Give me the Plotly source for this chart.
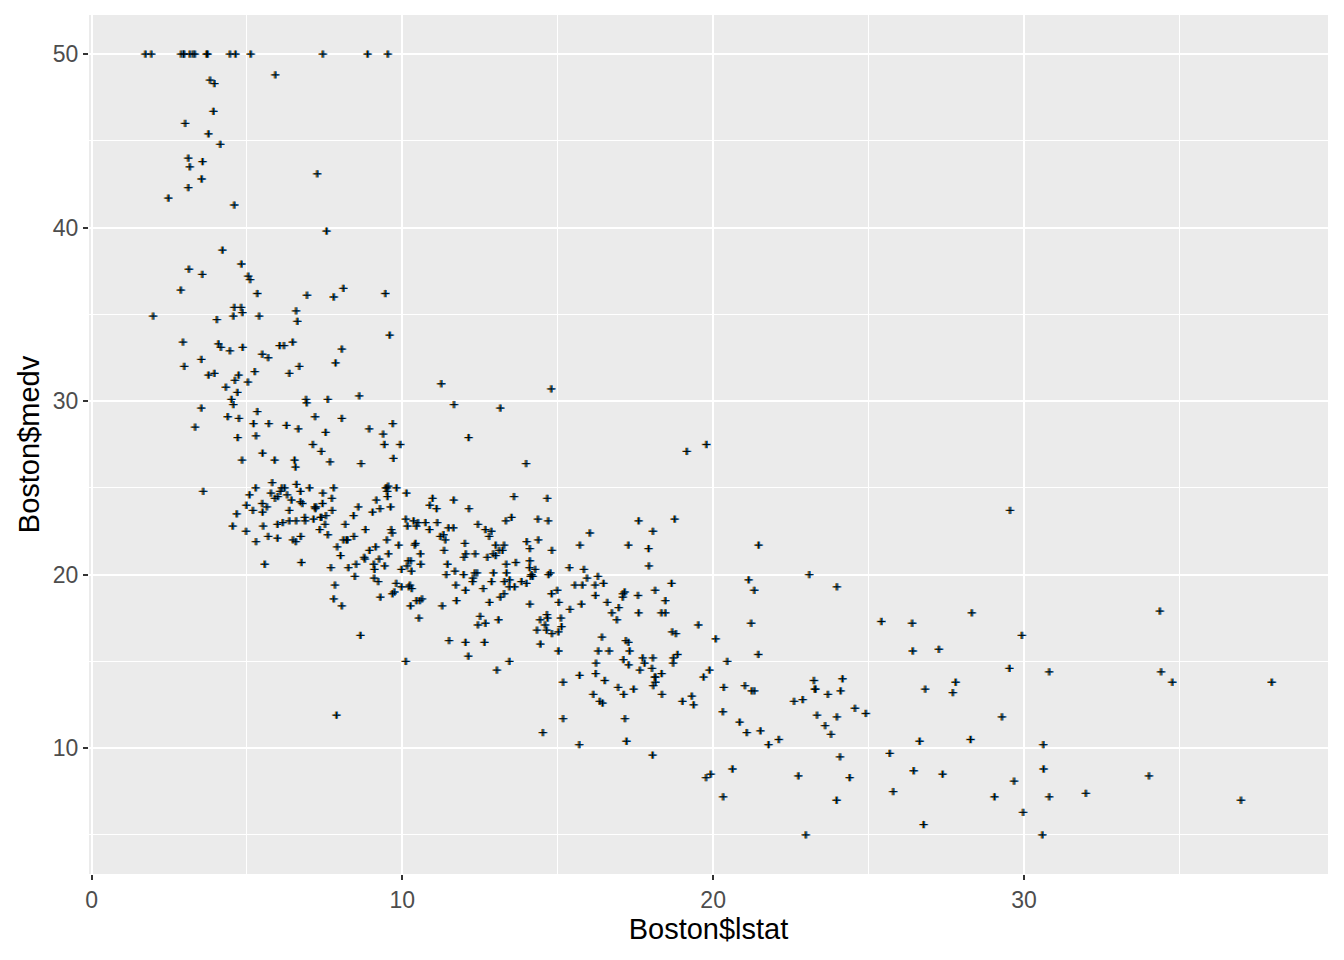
import plotly.graph_objects as go

lstat = [
    4.98, 9.14, 4.03, 2.94, 5.33, 5.21, 12.43, 19.15, 29.93, 17.10,
    20.45, 13.27, 15.71, 8.26, 10.26, 8.47, 6.58, 14.67, 11.69, 11.28,
    21.02, 13.83, 18.72, 19.88, 16.30, 16.51, 14.81, 17.28, 12.80, 11.98,
    22.60, 13.04, 27.71, 18.35, 20.34, 9.68, 11.41, 8.77, 10.13, 4.32,
    1.98, 4.84, 5.81, 7.44, 9.55, 10.21, 14.15, 18.80, 30.81, 16.20,
    13.45, 9.43, 5.28, 8.43, 14.80, 4.81, 5.77, 3.95, 6.86, 9.22,
    13.15, 14.44, 6.73, 9.50, 8.05, 4.67, 10.24, 8.10, 13.09, 8.79,
    6.72, 9.88, 5.52, 7.54, 6.78, 8.94, 11.97, 10.27, 12.34, 9.10,
    5.29, 7.22, 6.72, 7.51, 9.62, 6.53, 12.86, 8.44, 5.50, 5.70,
    8.81, 8.20, 8.16, 6.21, 10.59, 6.65, 11.34, 4.21, 3.57, 6.19,
    9.42, 7.67, 10.63, 13.44, 12.33, 16.47, 18.66, 14.09, 12.27, 15.55,
    13.00, 10.16, 16.21, 17.09, 10.45, 15.76, 12.04, 10.30, 15.37, 13.61,
    14.37, 14.27, 17.93, 25.41, 17.58, 14.81, 27.26, 17.19, 15.39, 18.34,
    12.60, 12.26, 11.12, 15.03, 17.31, 16.96, 16.90, 14.59, 21.32, 18.46,
    24.16, 34.41, 26.82, 26.42, 29.29, 27.80, 16.65, 29.53, 28.32, 21.45,
    14.10, 13.28, 12.12, 15.79, 15.12, 15.02, 16.14, 4.59, 6.43, 7.39,
    5.50, 1.73, 1.92, 3.32, 11.64, 9.81, 3.70, 12.14, 11.10, 11.32,
    14.43, 12.03, 14.69, 9.04, 9.64, 5.33, 10.11, 6.29, 6.92, 5.04,
    7.56, 9.45, 4.82, 5.68, 13.98, 13.15, 4.45, 6.68, 4.56, 5.39,
    5.10, 4.69, 2.87, 5.03, 4.38, 2.97, 4.08, 8.61, 6.62, 4.56,
    4.45, 7.43, 3.11, 3.81, 2.88, 10.87, 10.97, 18.06, 14.66, 23.09,
    17.27, 23.98, 16.03, 9.38, 29.55, 9.47, 13.51, 9.69, 17.92, 10.50,
    9.71, 21.46, 9.93, 7.60, 4.14, 4.63, 3.13, 6.36, 3.92, 3.76,
    11.65, 5.25, 2.47, 3.95, 8.05, 10.88, 9.54, 4.73, 6.36, 7.37,
    11.38, 12.40, 11.22, 5.19, 12.50, 18.46, 9.16, 10.15, 9.52, 6.56,
    5.90, 3.59, 3.53, 3.54, 6.57, 9.25, 3.11, 5.12, 7.79, 6.90,
    9.59, 7.26, 5.91, 11.25, 8.10, 10.45, 14.79, 7.44, 3.16, 13.65,
    13.00, 6.59, 7.73, 6.58, 3.53, 2.98, 6.05, 4.16, 7.19, 4.85,
    3.76, 4.59, 3.01, 3.16, 7.85, 8.23, 12.93, 7.14, 7.60, 9.51,
    3.33, 3.56, 4.70, 8.58, 10.40, 6.27, 7.39, 15.84, 4.97, 4.74,
    6.07, 9.50, 8.67, 4.86, 6.93, 8.93, 6.47, 7.53, 4.54, 9.97,
    12.64, 5.98, 11.72, 7.90, 9.28, 11.50, 18.33, 15.94, 10.36, 12.73,
    7.20, 6.87, 7.70, 11.74, 6.12, 5.08, 6.15, 12.79, 9.97, 7.34,
    9.09, 12.43, 7.83, 5.68, 6.75, 8.01, 9.80, 10.56, 8.51, 9.74,
    9.29, 5.49, 8.65, 7.18, 4.61, 10.53, 12.67, 6.36, 5.99, 5.89,
    5.98, 5.49, 7.79, 4.50, 8.05, 5.57,
    17.60, 13.27, 11.48, 12.67, 7.79, 14.19, 10.19, 14.64, 5.29, 7.12, 14.00, 13.33, 3.26, 3.73,
    2.96, 9.53, 8.88, 34.77, 37.97, 13.44, 23.24, 21.24, 23.69, 21.78,
    17.21, 21.08, 23.60, 24.56, 30.63, 30.81, 28.28, 31.99, 30.62, 20.85,
    17.11, 18.76, 25.68, 15.17, 16.35, 17.12, 19.37, 19.92, 30.59, 29.97,
    26.77, 20.32, 20.31, 19.77, 27.38, 22.98, 23.34, 12.13, 26.40, 19.78,
    10.11, 21.22, 34.37, 20.08, 36.98, 29.05, 25.79, 26.64, 20.62, 22.74,
    15.02, 15.70, 14.10, 23.29, 17.16, 24.39, 15.69, 14.52, 21.52, 24.08,
    17.64, 19.69, 12.03, 16.22, 15.17, 23.27, 18.05, 26.45, 34.02, 22.88,
    22.11, 19.52, 16.59, 18.85, 23.79, 23.98, 17.79, 16.44, 18.13, 19.31,
    17.44, 17.73, 17.27, 16.74, 18.71, 18.13, 19.01, 16.94, 16.23, 14.70,
    16.42, 14.65, 13.99, 10.29, 13.22, 14.13, 17.15, 21.32, 18.13, 14.76,
    16.29, 12.87, 14.36, 11.66, 18.14, 24.10, 18.68, 24.91, 18.03, 13.11,
    10.74, 7.74, 7.01, 10.42, 13.34, 10.58, 14.98, 11.45, 18.06, 23.97,
    29.68, 18.07, 13.35, 12.01, 13.59, 17.60, 21.14, 14.10, 12.92, 15.10,
    14.33, 9.67, 9.08, 5.64, 6.48, 7.88,
]

medv = [
    24.0, 21.6, 34.7, 33.4, 36.2, 28.7, 22.9, 27.1, 16.5, 18.9,
    15.0, 18.9, 21.7, 20.4, 18.2, 19.9, 23.1, 17.5, 20.2, 18.2,
    13.6, 19.6, 15.2, 14.5, 15.6, 13.9, 16.6, 14.8, 18.4, 21.0,
    12.7, 14.5, 13.2, 13.1, 13.5, 18.9, 20.0, 21.0, 24.7, 30.8,
    34.9, 26.6, 25.3, 24.7, 21.2, 19.3, 20.0, 16.6, 14.4, 19.4,
    19.7, 20.5, 25.0, 23.4, 18.9, 35.4, 24.7, 31.6, 23.3, 19.6,
    18.7, 16.0, 22.2, 25.0, 33.0, 23.5, 19.4, 22.0, 17.4, 20.9,
    24.2, 21.7, 22.8, 23.4, 24.1, 21.4, 20.0, 20.8, 21.2, 20.3,
    28.0, 23.9, 24.8, 22.9, 23.9, 26.6, 22.5, 22.2, 23.6, 28.7,
    22.6, 22.0, 22.9, 25.0, 20.6, 28.4, 21.4, 38.7, 43.8, 33.2,
    27.5, 26.5, 18.6, 19.3, 20.1, 19.5, 19.5, 20.4, 19.8, 19.4,
    21.7, 22.8, 18.8, 18.7, 18.5, 18.3, 21.2, 19.2, 20.4, 19.3,
    22.0, 20.3, 20.5, 17.3, 18.8, 21.4, 15.7, 16.2, 18.0, 14.3,
    19.2, 19.6, 23.0, 18.4, 15.6, 18.1, 17.4, 17.1, 13.3, 17.8,
    14.0, 14.4, 13.4, 15.6, 11.8, 13.8, 15.6, 14.6, 17.8, 15.4,
    21.5, 19.6, 15.3, 19.4, 17.0, 15.6, 13.1, 41.3, 24.3, 23.3,
    27.0, 50.0, 50.0, 50.0, 22.7, 25.0, 50.0, 23.8, 23.8, 22.3,
    17.4, 19.1, 23.1, 23.6, 22.6, 29.4, 23.2, 24.6, 29.9, 37.2,
    39.8, 36.2, 37.9, 32.5, 26.4, 29.6, 50.0, 32.0, 29.8, 34.9,
    37.0, 30.5, 36.4, 31.1, 29.1, 50.0, 33.3, 30.3, 34.6, 34.9,
    32.9, 24.1, 42.3, 48.5, 50.0, 22.6, 24.4, 22.5, 24.4, 20.0,
    21.7, 19.3, 22.4, 28.1, 23.7, 25.0, 23.3, 28.7, 21.5, 23.0,
    26.7, 21.7, 27.5, 30.1, 44.8, 50.0, 37.6, 31.6, 46.7, 31.5,
    24.3, 31.7, 41.7, 48.3, 29.0, 24.0, 25.1, 31.5, 23.7, 23.3,
    22.0, 20.1, 22.2, 23.7, 17.6, 18.5, 24.3, 20.5, 24.5, 26.2,
    24.4, 24.8, 29.6, 42.8, 21.9, 20.9, 44.0, 50.0, 36.0, 30.1,
    33.8, 43.1, 48.8, 31.0, 36.5, 22.8, 30.7, 50.0, 43.5, 20.7,
    21.1, 25.2, 24.4, 35.2, 32.4, 32.0, 33.2, 33.1, 29.1, 35.1,
    45.4, 35.4, 46.0, 50.0, 32.2, 22.0, 20.1, 23.2, 22.3, 24.8,
    28.5, 37.3, 27.9, 23.9, 21.7, 28.6, 27.1, 20.3, 22.5, 29.0,
    24.8, 22.0, 26.4, 33.1, 36.1, 28.4, 33.4, 28.2, 22.8, 20.3,
    16.1, 22.1, 19.4, 21.6, 23.8, 16.2, 17.8, 19.8, 23.1, 21.0,
    23.8, 23.1, 20.4, 18.5, 25.0, 24.6, 23.0, 22.2, 19.3, 22.6,
    19.8, 17.1, 19.4, 22.2, 20.7, 21.1, 19.5, 18.5, 20.6, 19.0,
    18.7, 32.7, 16.5, 23.9, 31.2, 17.5, 17.2, 23.1, 24.5, 26.6,
    22.9, 24.1, 18.6, 30.1, 18.2, 20.6,
    17.8, 21.7, 22.7, 22.6, 25.0, 19.9, 20.8, 16.8, 21.9, 27.5, 21.9, 23.1, 50.0, 50.0,
    50.0, 50.0, 50.0, 13.8, 13.8, 15.0, 13.9, 13.3, 13.1, 10.2,
    10.4, 10.9, 11.3, 12.3, 8.8, 7.2, 10.5, 7.4, 10.2, 11.5,
    15.1, 23.2, 9.7, 13.8, 12.7, 13.1, 12.5, 8.5, 5.0, 6.3,
    5.6, 7.2, 12.1, 8.3, 8.5, 5.0, 11.9, 27.9, 17.2, 27.5,
    15.0, 17.2, 17.9, 16.3, 7.0, 7.2, 7.5, 10.4, 8.8, 8.4,
    16.7, 14.2, 20.8, 13.4, 11.7, 8.3, 10.2, 10.9, 11.0, 9.5,
    14.5, 14.1, 16.1, 14.3, 11.7, 13.4, 9.6, 8.7, 8.4, 12.8,
    10.5, 17.1, 18.4, 15.4, 10.8, 11.8, 14.9, 12.6, 14.1, 13.0,
    13.4, 15.2, 16.1, 17.8, 14.9, 14.1, 12.7, 13.5, 14.9, 20.0,
    16.4, 17.7, 19.5, 20.2, 21.4, 19.9, 19.0, 19.1, 19.1, 20.1,
    19.9, 19.6, 23.2, 29.8, 13.8, 13.3, 16.7, 12.0, 14.6, 21.4,
    23.0, 23.7, 25.0, 21.8, 20.6, 21.2, 19.1, 20.6, 15.2, 7.0,
    8.1, 13.6, 20.1, 21.8, 24.5, 23.1, 19.7, 18.3, 21.2, 17.5,
    16.8, 22.4, 20.6, 23.9, 22.0, 11.9,
]

x_ticks = [0, 10, 20, 30]
y_ticks = [10, 20, 30, 40, 50]

n = min(len(lstat), len(medv))
lstat = lstat[:n]
medv = medv[:n]

W, H = 1344, 960
ML, MR, MT, MB = 88.5, 16, 15, 86

xmin, xmax = min(lstat), max(lstat)
ymin, ymax = min(medv), max(medv)
xr = [xmin - 0.05 * (xmax - xmin), xmax + 0.05 * (xmax - xmin)]
yr = [ymin - 0.05 * (ymax - ymin), ymax + 0.05 * (ymax - ymin)]

px_per_unit = (W - ML - MR) / (xr[1] - xr[0])
d = 1.0 / px_per_unit  # one pixel in data units (for colour fringing)

cross = dict(symbol="cross-thin", size=5.2)

fig = go.Figure()
fig.add_trace(go.Scatter(
    x=[v - d for v in lstat], y=medv, mode="markers", hoverinfo="skip",
    marker=dict(**cross, line=dict(color="#D07800", width=1.3)), showlegend=False))
fig.add_trace(go.Scatter(
    x=[v + d for v in lstat], y=medv, mode="markers", hoverinfo="skip",
    marker=dict(**cross, line=dict(color="#0070D0", width=1.3)), showlegend=False))
fig.add_trace(go.Scatter(
    x=lstat, y=medv, mode="markers",
    marker=dict(**cross, line=dict(color="black", width=0.9)), showlegend=False))

font_family = "Liberation Sans, Arial, sans-serif"
axis_common = dict(
    showgrid=True, gridcolor="white", gridwidth=1.8,
    zeroline=False, showline=False,
    ticks="outside", ticklen=5, tickwidth=1.8, tickcolor="#333333",
    tickfont=dict(family=font_family, size=23, color="#4D4D4D"),
    title_font=dict(family=font_family, size=29, color="black"),
)

fig.update_layout(
    width=W, height=H,
    margin=dict(l=ML, r=MR, t=MT, b=MB, pad=0),
    paper_bgcolor="white", plot_bgcolor="#EBEBEB",
    xaxis=dict(
        range=xr, tickmode="array", tickvals=x_ticks, ticktext=[str(v) for v in x_ticks],
        minor=dict(tickmode="linear", tick0=5, dtick=10, showgrid=True,
                   gridcolor="white", gridwidth=0.9, ticks=""),
        title=dict(text="Boston$lstat", standoff=6),
        automargin=False, **axis_common),
    yaxis=dict(
        range=yr, tickmode="array", tickvals=y_ticks, ticktext=[str(v) for v in y_ticks],
        minor=dict(tickmode="linear", tick0=5, dtick=10, showgrid=True,
                   gridcolor="white", gridwidth=0.9, ticks=""),
        title=dict(text="Boston$medv", standoff=4),
        automargin=False, **axis_common),
)

fig.write_html("out.html")
